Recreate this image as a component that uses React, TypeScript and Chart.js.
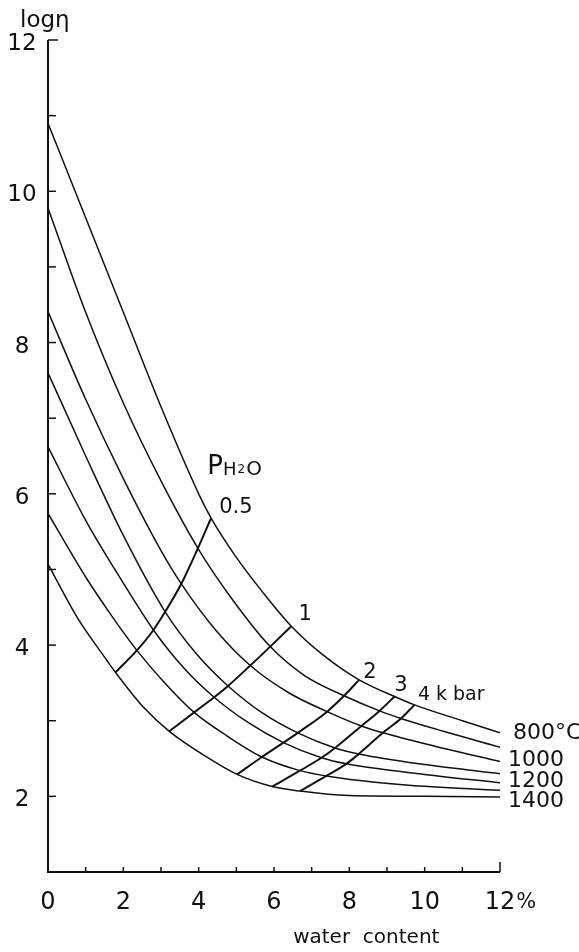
import React, { useEffect, useRef } from "react";
import { Chart, registerables } from "chart.js";

Chart.register(...registerables);

// water content (%) and log viscosity for each isotherm
const c800X = [0, 1, 2, 3, 4, 4.33, 5, 5.7, 6.46, 7.3, 8.26, 9.2, 9.73, 11, 12];
const c800Y = [10.9, 9.65, 8.4, 7.15, 6.0, 5.68, 5.16, 4.7, 4.25, 3.87, 3.54, 3.32, 3.21, 3.0, 2.84];
const c900X = [0, 1, 2, 3, 3.98, 4.9, 5.9, 6.8, 7.86, 8.8, 9.37, 10.5, 12];
const c900Y = [9.78, 8.4, 7.2, 6.17, 5.28, 4.6, 3.98, 3.6, 3.33, 3.13, 3.03, 2.86, 2.65];
const c1000X = [0, 1, 2, 3, 3.54, 4.45, 5.37, 6.39, 7.41, 8.32, 8.89, 10.3, 12];
const c1000Y = [8.41, 7.25, 6.2, 5.25, 4.81, 4.2, 3.73, 3.37, 3.12, 2.93, 2.84, 2.66, 2.46];
const c1100X = [0, 1, 2, 3.11, 3.95, 4.78, 5.7, 6.63, 7.62, 8.25, 10, 12];
const c1100Y = [7.6, 6.5, 5.45, 4.44, 3.88, 3.46, 3.1, 2.84, 2.64, 2.56, 2.42, 2.3];
const c1200X = [0, 1, 2, 2.8, 3.6, 4.41, 5.3, 6.25, 7.26, 7.92, 10, 12];
const c1200Y = [6.62, 5.65, 4.82, 4.2, 3.7, 3.31, 2.98, 2.71, 2.51, 2.43, 2.29, 2.18];
const c1300X = [0, 1, 1.7, 2.36, 3.1, 3.88, 4.75, 5.68, 6.69, 7.39, 9.5, 12];
const c1300Y = [5.74, 4.9, 4.38, 3.93, 3.5, 3.11, 2.8, 2.52, 2.34, 2.27, 2.15, 2.08];
const c1400X = [0, 0.77, 1.56, 1.79, 2.53, 3.22, 4.12, 5.02, 5.95, 6.69, 8, 10, 12];
const c1400Y = [5.07, 4.37, 3.8, 3.64, 3.18, 2.86, 2.55, 2.29, 2.13, 2.07, 2.01, 2.0, 1.99];

// isobars (P H2O in kbar), from 1400 curve up to 800 curve
const iso05X = [1.79, 2.36, 2.8, 3.11, 3.54, 3.98, 4.33];
const iso05Y = [3.64, 3.93, 4.2, 4.44, 4.81, 5.28, 5.68];
const iso1X = [3.22, 3.88, 4.41, 4.78, 5.37, 5.9, 6.46];
const iso1Y = [2.86, 3.11, 3.31, 3.46, 3.73, 3.98, 4.25];
const iso2X = [5.02, 5.68, 6.25, 6.63, 7.41, 7.86, 8.26];
const iso2Y = [2.29, 2.52, 2.71, 2.84, 3.12, 3.33, 3.54];
const iso3X = [5.95, 6.69, 7.26, 7.62, 8.32, 8.8, 9.2];
const iso3Y = [2.13, 2.34, 2.51, 2.64, 2.93, 3.13, 3.32];
const iso4X = [6.69, 7.39, 7.92, 8.25, 8.89, 9.37, 9.73];
const iso4Y = [2.07, 2.27, 2.43, 2.56, 2.84, 3.03, 3.21];

const xTickValues = [0, 2, 4, 6, 8, 10, 12];
const xTickLabels = ["0", "2", "4", "6", "8", "10", "12"];
const yTickValues = [2, 4, 6, 8, 10, 12];
const yTickLabels = ["2", "4", "6", "8", "10", "12"];

const tempLabels = ["800°C", "1000", "1200", "1400"];
const tempLabelY = [2.83, 2.48, 2.2, 1.93];
const pressureLabels = ["0.5", "1", "2", "3"];
const pressureLabelX = [4.99, 6.83, 8.55, 9.37];
const pressureLabelY = [5.82, 4.41, 3.64, 3.46];

const FONT = "'DejaVu Sans', 'Liberation Sans', sans-serif";

function pts(xs: number[], ys: number[]) {
  return xs.map((x, i) => ({ x, y: ys[i] }));
}

const decorPlugin = {
  id: "decor",
  afterDraw(chart: any) {
    const ctx = chart.ctx as CanvasRenderingContext2D;
    const xs = chart.scales.x;
    const ys = chart.scales.y;
    const { left, right, top, bottom } = chart.chartArea;
    ctx.save();
    ctx.strokeStyle = "#111";
    ctx.fillStyle = "#111";
    // axes
    ctx.lineWidth = 2;
    ctx.beginPath();
    ctx.moveTo(left, top);
    ctx.lineTo(left, bottom);
    ctx.lineTo(right, bottom);
    ctx.stroke();
    // y ticks (inward)
    ctx.lineWidth = 1.5;
    for (let v = 2; v <= 12; v++) {
      const y = ys.getPixelForValue(v);
      ctx.beginPath();
      ctx.moveTo(left, y);
      ctx.lineTo(left + (v === 12 ? 10 : 8), y);
      ctx.stroke();
    }
    // x ticks (inward)
    for (let v = 1; v <= 12; v++) {
      const x = xs.getPixelForValue(v);
      ctx.beginPath();
      ctx.moveTo(x, bottom);
      ctx.lineTo(x, bottom - (v === 12 ? 10 : 5));
      ctx.stroke();
    }
    ctx.textBaseline = "middle";
    // y tick labels
    ctx.font = `23px ${FONT}`;
    ctx.textAlign = "center";
    yTickValues.forEach((v, i) => {
      ctx.fillText(yTickLabels[i], left - 26, ys.getPixelForValue(v) + 4);
    });
    // x tick labels
    ctx.font = `24px ${FONT}`;
    xTickValues.forEach((v, i) => {
      const x = xs.getPixelForValue(v);
      ctx.fillText(xTickLabels[i], x, bottom + 31);
      if (i === xTickValues.length - 1) {
        const w = ctx.measureText(xTickLabels[i]).width;
        ctx.textAlign = "left";
        ctx.font = `21px ${FONT}`;
        ctx.fillText("%", x + w / 2 + 1, bottom + 31);
        ctx.textAlign = "center";
        ctx.font = `24px ${FONT}`;
      }
    });
    // axis titles
    ctx.font = `20px ${FONT}`;
    ctx.fillText("water  content", xs.getPixelForValue(8.45), bottom + 66);
    ctx.textAlign = "left";
    ctx.font = `23px ${FONT}`;
    ctx.fillText("logη", left - 28, top - 19);
    // temperature labels
    ctx.font = `22px ${FONT}`;
    tempLabels.forEach((t, i) => {
      ctx.fillText(t, right + (i === 0 ? 13 : 8), ys.getPixelForValue(tempLabelY[i]));
    });
    // pressure labels
    ctx.textAlign = "center";
    ctx.font = `21px ${FONT}`;
    pressureLabels.forEach((t, i) => {
      ctx.fillText(t, xs.getPixelForValue(pressureLabelX[i]), ys.getPixelForValue(pressureLabelY[i]));
    });
    ctx.textAlign = "left";
    ctx.font = `19px ${FONT}`;
    ctx.fillText("4 k bar", xs.getPixelForValue(9.82), ys.getPixelForValue(3.34));
    // P H2O
    let px = xs.getPixelForValue(4.23);
    const py = ys.getPixelForValue(6.35);
    ctx.font = `26px ${FONT}`;
    ctx.fillText("P", px, py);
    px += ctx.measureText("P").width;
    ctx.font = `18px ${FONT}`;
    ctx.fillText("H", px, py + 3);
    px += ctx.measureText("H").width + 1;
    ctx.font = `12px ${FONT}`;
    ctx.fillText("2", px, py + 3);
    px += ctx.measureText("2").width + 1;
    ctx.font = `20px ${FONT}`;
    ctx.fillText("O", px, py + 2);
    ctx.restore();
  },
};

export default function App() {
  const ref = useRef<HTMLCanvasElement | null>(null);
  useEffect(() => {
    if (!ref.current) return;
    const curve = (xs: number[], ys: number[], label: string) => ({
      label,
      data: pts(xs, ys),
      borderColor: "#111",
      borderWidth: 1.5,
      pointRadius: 0,
      fill: false,
      cubicInterpolationMode: "monotone" as const,
    });
    const iso = (xs: number[], ys: number[], label: string) => ({
      label,
      data: pts(xs, ys),
      borderColor: "#111",
      borderWidth: 2,
      pointRadius: 0,
      fill: false,
      cubicInterpolationMode: "monotone" as const,
    });
    const chart = new Chart(ref.current, {
      type: "line",
      data: {
        datasets: [
          curve(c800X, c800Y, "800°C"),
          curve(c900X, c900Y, "900"),
          curve(c1000X, c1000Y, "1000"),
          curve(c1100X, c1100Y, "1100"),
          curve(c1200X, c1200Y, "1200"),
          curve(c1300X, c1300Y, "1300"),
          curve(c1400X, c1400Y, "1400"),
          iso(iso05X, iso05Y, "0.5 kbar"),
          iso(iso1X, iso1Y, "1 kbar"),
          iso(iso2X, iso2Y, "2 kbar"),
          iso(iso3X, iso3Y, "3 kbar"),
          iso(iso4X, iso4Y, "4 kbar"),
        ],
      },
      options: {
        animation: false,
        responsive: true,
        maintainAspectRatio: false,
        layout: { padding: { left: 48, right: 79, top: 40, bottom: 80 } },
        plugins: { legend: { display: false }, tooltip: { enabled: false } },
        scales: {
          x: { type: "linear", min: 0, max: 12, display: false },
          y: { type: "linear", min: 1, max: 12, display: false },
        },
      },
      plugins: [decorPlugin],
    });
    return () => chart.destroy();
  }, []);
  return (
    <div style={{ position: "absolute", left: 0, top: 0, width: 579, height: 952, background: "#fff" }}>
      <canvas ref={ref} />
    </div>
  );
}
